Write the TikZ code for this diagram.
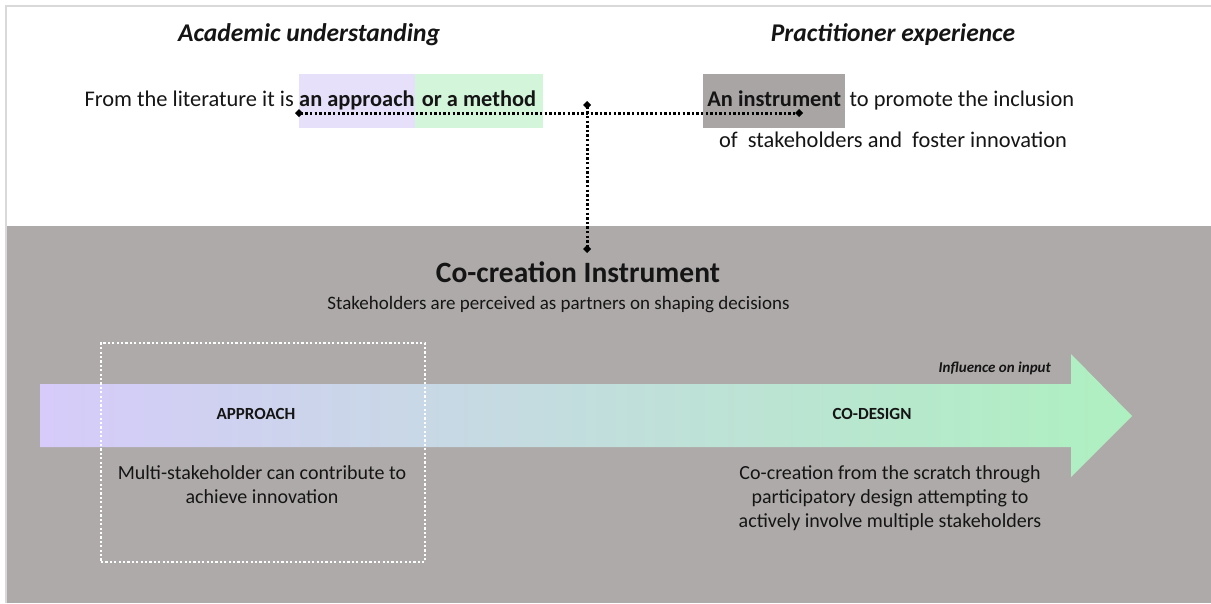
\documentclass[tikz,border=0pt]{standalone}
\usepackage{fontspec}
\setmainfont{Carlito}
\usetikzlibrary{arrows.meta}

\definecolor{panelgray}{HTML}{AEAAA9}
\definecolor{framegray}{HTML}{D9D9D9}
\definecolor{boxgray}{HTML}{A9A5A4}
\definecolor{lav}{HTML}{E6E0FA}
\definecolor{mint}{HTML}{D3F5D9}
\definecolor{arrowlav}{HTML}{D6CBFA}
\definecolor{arrowmint}{HTML}{AEF0C0}
\definecolor{ink}{HTML}{151515}

\begin{document}
\begin{tikzpicture}[x=1pt,y=-1pt,
  every node/.style={text=ink},
  body/.style={inner sep=0pt, font=\fontsize{22.4}{26.9}\selectfont},
  heading/.style={inner sep=0pt, font=\fontsize{25.5}{30}\selectfont\bfseries\itshape},
  hilite/.style={inner sep=0pt, minimum height=54pt, text height=16pt, text depth=5pt,
                 font=\fontsize{22.4}{26.9}\selectfont\bfseries},
  stagelabel/.style={inner sep=0pt, font=\fontsize{17}{20}\selectfont\bfseries},
  note/.style={inner sep=0pt, align=center, font=\fontsize{20}{24}\selectfont},
  link/.style={draw=black, line width=3pt, dash pattern=on 2.4pt off 2.2pt,
               {Diamond[length=8pt,width=8pt]}-{Diamond[length=8pt,width=8pt]}},
  focusbox/.style={draw=white, line width=2.4pt, dash pattern=on 2.2pt off 2.2pt,
                   minimum width=324pt, minimum height=219pt, inner sep=0pt}
]
\useasboundingbox (0,0) rectangle (1211,603);

% page, frame and lower panel
\fill[white] (0,0) rectangle (1211,603);
\draw[framegray, line width=2pt] (6,603) -- (6,6) -- (1211,6);
\fill[panelgray] (7,226) rectangle (1211,603);

% influence arrow
\shade[left color=arrowlav, right color=arrowmint]
  (40,384) -- (1071,384) -- (1071,354) -- (1132,416) -- (1071,477) -- (1071,447) -- (40,447) -- cycle;

% upper half: two perspectives
\node[heading, anchor=base] (acad) at (309,41) {Academic understanding};
\node[heading, anchor=base] (prac) at (893,41) {Practitioner experience};

\node[hilite, fill=lav, minimum width=113pt, anchor=west] (appr) at (299,101) {an approach};
\node[hilite, fill=mint, minimum width=128pt, anchor=west] (meth) at (appr.east) {or a method};
\node[body, anchor=base east] (lit) at ([xshift=-5pt]appr.base west) {From the literature it is};

\node[hilite, fill=boxgray, minimum width=142pt, anchor=west] (instr) at (703,101) {An instrument};
\node[body, anchor=base west] (promote) at ([xshift=4pt]instr.base east) {to promote the inclusion};
\node[body, anchor=base] (foster) at (893,147) {of\ \ stakeholders and\ \ foster innovation};

% lower half: the instrument
\node[inner sep=0pt, font=\fontsize{29.5}{34}\selectfont\bfseries, anchor=base] (cci) at (578,282.5) {Co-creation Instrument};
\node[inner sep=0pt, font=\fontsize{19}{23}\selectfont, anchor=base] (partners) at (558.5,309) {Stakeholders are perceived as partners on shaping decisions};

\node[focusbox] (focus) at (263,452.5) {};

\node[inner sep=0pt, font=\fontsize{15}{18}\selectfont\bfseries\itshape, anchor=base east] (influence) at (1051,372) {Influence on input};
\node[stagelabel, anchor=base] (approach) at (256,419) {APPROACH};
\node[stagelabel, anchor=base] (codesign) at (872,419.5) {CO-DESIGN};

\node[note] (multi) at (262,484.5) {Multi-stakeholder can contribute to\\achieve innovation};
\node[note] (scratch) at (890,498) {Co-creation from the scratch through\\participatory design attempting to\\actively involve multiple stakeholders};

% dotted links
\coordinate (hleft) at (295,113);
\coordinate (hright) at (803,113);
\coordinate (vtop) at (587,101);
\coordinate (vbot) at (587,253);
\draw[link] (hleft) -- (hright);
\draw[link] (vtop) -- (vbot);
\end{tikzpicture}
\end{document}
